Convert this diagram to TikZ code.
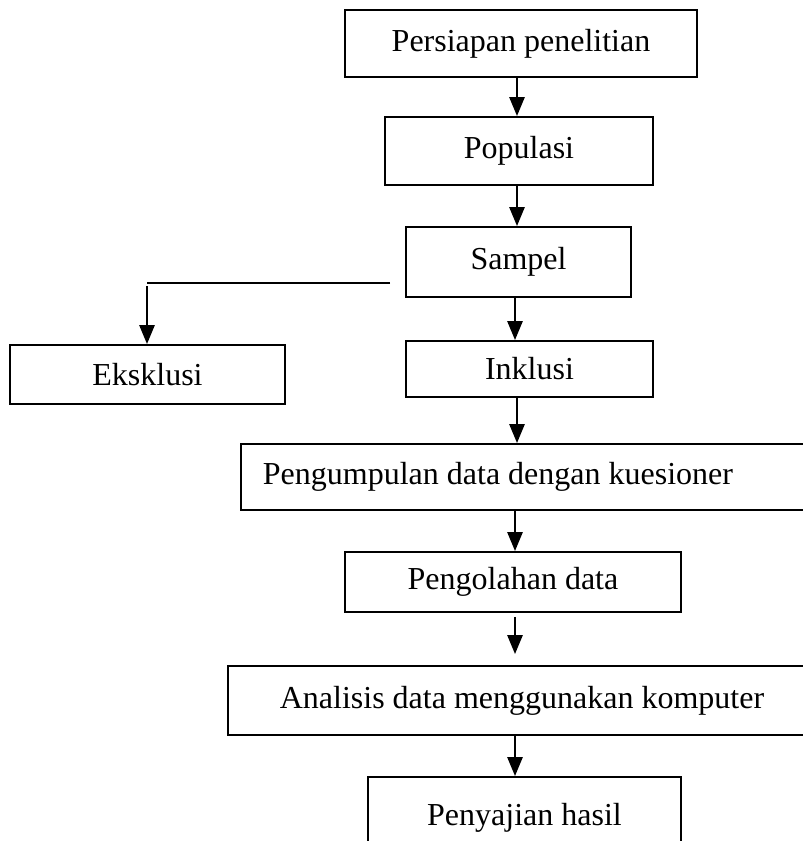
\documentclass[tikz,border=0pt]{standalone}
\usepackage{fontspec}
\setmainfont{Liberation Serif}
\usetikzlibrary{arrows.meta}
\begin{document}
\begin{tikzpicture}[x=1pt,y=-1pt,
  box/.style={draw, line width=1.8pt, inner sep=0pt, font=\fontsize{32}{38}\selectfont},
  flow/.style={line width=2.6pt, -{Triangle[width=15pt,length=19pt]}},
  thinline/.style={line width=1.6pt}]
\useasboundingbox (0,0) rectangle (803,841);
\clip (0,0) rectangle (803,841);
\coordinate (ax) at (517,0);
\coordinate (bx) at (515,0);
\node[box, minimum width=352pt, minimum height=67pt] (persiapan) at (521,43.5) {Persiapan penelitian};
\node[box, minimum width=268pt, minimum height=68pt] (populasi) at (519,151) {Populasi};
\node[box, minimum width=225pt, minimum height=70pt] (sampel) at (518.5,262) {Sampel};
\node[box, minimum width=247pt, minimum height=56pt] (inklusi) at (529.5,369) {Inklusi};
\node[box, minimum width=275pt, minimum height=59pt] (eksklusi) at (147.5,374.5) {Eksklusi};
\node[box, anchor=west, inner xsep=22pt, minimum height=66pt] (kumpul) at (240,477) {\makebox[600pt][l]{Pengumpulan data dengan kuesioner}};
\node[box, minimum width=336pt, minimum height=60pt] (olah) at (513,582) {Pengolahan data};
\node[box, minimum width=588pt, minimum height=69pt] (analisis) at (522,700.5) {Analisis data menggunakan komputer};
\node[box, minimum width=313pt, minimum height=81pt] (saji) at (524.5,817.5) {Penyajian hasil};
\coordinate (split) at (390,283);
\coordinate (corner) at (147,283);
\draw[flow] (persiapan.south -| ax) -- (populasi.north -| ax);
\draw[flow] (populasi.south -| ax) -- (sampel.north -| ax);
\draw[flow] (sampel.south -| bx) -- (inklusi.north -| bx);
\draw[thinline] (split) -- (corner);
\draw[flow] ([yshift=-3pt]corner) -- (eksklusi.north -| corner);
\draw[flow] (inklusi.south -| ax) -- (kumpul.north -| ax);
\draw[flow] (kumpul.south -| bx) -- (olah.north -| bx);
\draw[flow, shorten <=4pt, shorten >=11pt] (olah.south -| bx) -- (analisis.north -| bx);
\draw[flow] (analisis.south -| bx) -- (saji.north -| bx);
\end{tikzpicture}
\end{document}
